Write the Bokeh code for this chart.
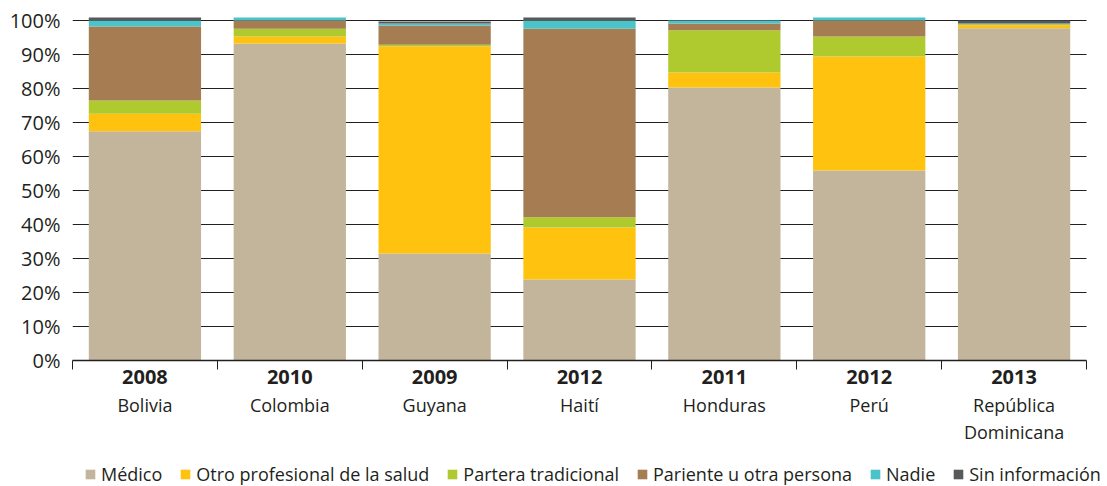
from bokeh.plotting import figure
from bokeh.models import (ColumnDataSource, LinearAxis, FixedTicker, Legend,
                          LegendItem, Range1d)
from bokeh.layouts import column
from bokeh.embed import file_html
from bokeh.resources import INLINE

# ---- data -------------------------------------------------------------
countries = ["Bolivia", "Colombia", "Guyana", "Haití", "Honduras", "Perú",
             "República\nDominicana"]
years = ["2008", "2010", "2009", "2012", "2011", "2012", "2013"]

medico = [67.4, 93.2, 31.5, 23.8, 80.3, 55.9, 97.7]
otro_profesional = [5.2, 2.1, 60.9, 15.3, 4.4, 33.5, 0.9]
partera = [3.9, 2.3, 0.5, 3.0, 12.4, 5.9, 0.3]
pariente = [21.7, 2.4, 5.6, 55.5, 2.0, 4.7, 0.1]
nadie = [1.8, 0.9, 0.6, 2.4, 0.9, 0.9, 0.1]
sin_info = [0.9, 0.0, 0.6, 0.9, 0.0, 0.0, 0.9]

series_names = ["Médico", "Otro profesional de la salud", "Partera tradicional",
                "Pariente u otra persona", "Nadie", "Sin información"]
series_colors = ["#c2b59b", "#ffc20e", "#afca2f", "#a67c52", "#4bc3c8", "#58595b"]

y_ticks = [0, 10, 20, 30, 40, 50, 60, 70, 80, 90, 100]
y_tick_labels = ["0%", "10%", "20%", "30%", "40%", "50%", "60%", "70%",
                 "80%", "90%", "100%"]

# ---- build --------------------------------------------------------------
FONT = "Open Sans"
TXT = "#231f20"
n = len(countries)
centers = [i + 0.5 for i in range(n)]
keys = ["s%d" % k for k in range(len(series_names))]
data = dict(x=centers)
for k, vals in zip(keys, [medico, otro_profesional, partera, pariente, nadie, sin_info]):
    data[k] = vals
src = ColumnDataSource(data)

x_view = Range1d(0, n + 0.145)   # a little empty room right of the last category

p = figure(width=1107, height=455, x_range=x_view, y_range=Range1d(0, 102.06),
           x_axis_type=None, y_axis_type=None, output_backend="svg",
           toolbar_location=None, min_border_left=72, min_border_right=0,
           min_border_top=13, min_border_bottom=95)
p.outline_line_color = None
p.background_fill_color = "white"

# horizontal gridlines, spanning the categories only
grid_src = ColumnDataSource(dict(y=y_ticks[1:], x0=[0] * (len(y_ticks) - 1),
                                 x1=[n] * (len(y_ticks) - 1)))
p.segment(x0="x0", x1="x1", y0="y", y1="y", source=grid_src,
          line_color="#231f20", line_width=1, level="underlay")

p.vbar_stack(keys, x="x", width=0.775, fill_color=series_colors,
             line_color=None, source=src)

# y axis
yaxis = LinearAxis(ticker=FixedTicker(ticks=y_ticks, minor_ticks=[]),
                   major_label_overrides={t: l for t, l in zip(y_ticks, y_tick_labels)})
yaxis.axis_line_color = None
yaxis.major_tick_line_color = None
yaxis.minor_tick_line_color = None
yaxis.major_tick_out = 0
yaxis.major_label_standoff = 12
yaxis.major_label_text_font = FONT
yaxis.major_label_text_font_size = "20px"
yaxis.major_label_text_color = TXT
p.add_layout(yaxis, "left")

# x axis with years (bold) and boundary ticks
xaxis = LinearAxis(ticker=FixedTicker(ticks=centers, minor_ticks=list(range(n + 1))),
                   major_label_overrides={c: y for c, y in zip(centers, years)},
                   bounds=(0, n))
xaxis.axis_line_color = TXT
xaxis.axis_line_width = 1.5
xaxis.major_tick_line_color = None
xaxis.major_tick_out = 0
xaxis.major_tick_in = 0
xaxis.minor_tick_line_color = TXT
xaxis.minor_tick_out = 9
xaxis.minor_tick_in = 0
xaxis.major_label_standoff = 0
xaxis.major_label_text_font = FONT
xaxis.major_label_text_font_size = "20px"
xaxis.major_label_text_font_style = "bold"
xaxis.major_label_text_color = TXT
p.add_layout(xaxis, "below")

lines1 = [c.split("\n")[0] for c in countries]
lines2 = [c.split("\n")[1] if "\n" in c else "" for c in countries]
for lines, standoff in ((lines1, 6), (lines2, 0)):
    ax = LinearAxis(ticker=FixedTicker(ticks=centers, minor_ticks=[]),
                    major_label_overrides={c: l for c, l in zip(centers, lines)},
                    bounds=(0, n))
    ax.axis_line_color = None
    ax.major_tick_line_color = None
    ax.minor_tick_line_color = None
    ax.major_tick_out = 0
    ax.major_tick_in = 0
    ax.major_label_standoff = standoff
    ax.major_label_text_font = FONT
    ax.major_label_text_font_size = "18px"
    ax.major_label_text_color = TXT
    p.add_layout(ax, "below")

# ---- legend strip (separate figure; its bars lie below its view) --------
leg = figure(width=1107, height=31, x_range=Range1d(0, n + 0.145), y_range=Range1d(110, 111),
             x_axis_type=None, y_axis_type=None, output_backend="svg",
             toolbar_location=None, min_border=0)
leg.outline_line_color = None
leg.background_fill_color = "white"
leg_renderers = leg.vbar_stack(keys, x="x", width=0.775, fill_color=series_colors,
                               line_color=None, source=src)
legend = Legend(items=[LegendItem(label=nm, renderers=[r])
                       for nm, r in zip(series_names, leg_renderers)],
                orientation="horizontal", location=(12, 0))
legend.glyph_width = 12
legend.glyph_height = 12
legend.label_height = 12
legend.label_standoff = 5
legend.spacing = 17
legend.padding = 0
legend.margin = 0
legend.border_line_color = None
legend.background_fill_alpha = 0
legend.label_text_font = FONT
legend.label_text_font_size = "18px"
legend.label_text_color = TXT
leg.add_layout(legend, "center")

layout = column(p, leg, spacing=0)
open("out.html", "w").write(file_html(layout, INLINE))
